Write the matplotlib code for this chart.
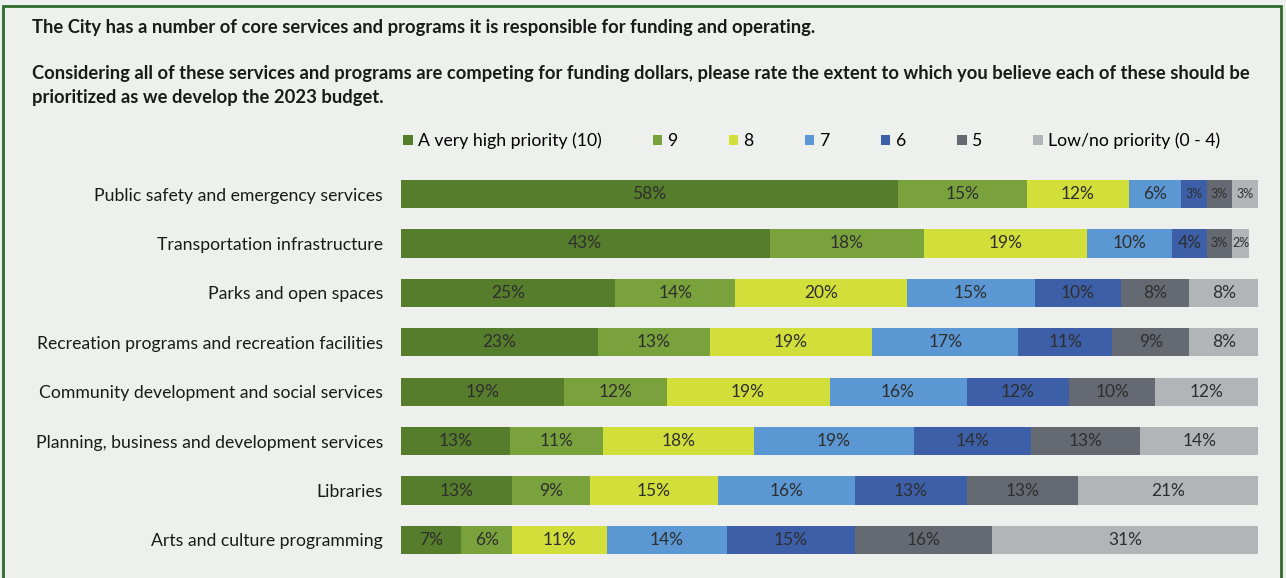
import numpy as np
import matplotlib.pyplot as plt
from matplotlib.patches import Rectangle

# Survey results: share of respondents per priority rating (%)
services = [
    "Public safety and emergency services",
    "Transportation infrastructure",
    "Parks and open spaces",
    "Recreation programs and recreation facilities",
    "Community development and social services",
    "Planning, business and development services",
    "Libraries",
    "Arts and culture programming",
]
ratings = ["A very high priority (10)", "9", "8", "7", "6", "5", "Low/no priority (0 - 4)"]

p10 = [58, 43, 25, 23, 19, 13, 13, 7]
p9 = [15, 18, 14, 13, 12, 11, 9, 6]
p8 = [12, 19, 20, 19, 19, 18, 15, 11]
p7 = [6, 10, 15, 17, 16, 19, 16, 14]
p6 = [3, 4, 10, 11, 12, 14, 13, 15]
p5 = [3, 3, 8, 9, 10, 13, 13, 16]
plow = [3, 2, 8, 8, 12, 14, 21, 31]

colors = ["#567d2b", "#7aa23c", "#d2df3b", "#5b97d2", "#3d5fa7", "#656a72", "#b2b5b8"]

values = np.array([p10, p9, p8, p7, p6, p5, plow], dtype=float)
# rows that round up past 100 are squeezed back to 100
scale = 100.0 / np.maximum(values.sum(axis=0), 100.0)
widths = values * scale

W, H = 1286, 578
fig = plt.figure(figsize=(W / 100, H / 100), dpi=100)
fig.patch.set_facecolor("#eef0ee")
plt.rcParams["font.family"] = ["Lato", "DejaVu Sans"]

# green frame
fig.patches.append(Rectangle((3 / W, -0.05), (1281 - 3) / W, 1 - 6 / H + 0.05,
                             transform=fig.transFigure, fill=False,
                             edgecolor="#2f6b2a", linewidth=2))

# question text
title_kw = dict(fontsize=13.2, fontweight="bold", color="#1a1a1a", va="center")
fig.text(32 / W, 1 - 27 / H,
         "The City has a number of core services and programs it is responsible for funding and operating.",
         **title_kw)
fig.text(32 / W, 1 - 74 / H,
         "Considering all of these services and programs are competing for funding dollars, please rate the extent to which you believe each of these should be",
         **title_kw)
fig.text(32 / W, 1 - 98 / H,
         "prioritized as we develop the 2023 budget.",
         **title_kw)

row_gap = 49.4
top = 194 - row_gap / 2
bottom = 540 + row_gap / 2
ax = fig.add_axes([401 / W, 1 - bottom / H, (1258 - 401) / W, (bottom - top) / H])
ax.set_facecolor("none")

y = np.arange(len(services))
left = np.zeros(len(services))
handles = []
for i in range(len(ratings)):
    bars = ax.barh(y, widths[i], left=left, height=0.57, color=colors[i],
                   label=ratings[i], edgecolor="none")
    handles.append(bars)
    for j in range(len(services)):
        v = values[i, j]
        fs = 12.5 if widths[i, j] >= 4 else 9
        if i >= 5 and j < 2:
            fs = 9
        ax.text(left[j] + widths[i, j] / 2, y[j], f"{v:.0f}%", ha="center", va="center",
                fontsize=fs, color="#2e2e2e")
    left += widths[i]

ax.set_xlim(0, 100)
ax.set_ylim(len(services) - 0.5, -0.5)
ax.set_yticks(y)
ax.set_yticklabels(services, fontsize=12.7, color="#1a1a1a")
ax.tick_params(axis="y", length=0, pad=13)
ax.set_xticks([])
for s in ax.spines.values():
    s.set_visible(False)

fig.legend(handles=handles, labels=ratings, loc="center left",
           bbox_to_anchor=(403 / W, 1 - 141 / H), ncol=7, frameon=False,
           fontsize=12.7, handlelength=0.55, handleheight=0.55, handletextpad=0.3,
           columnspacing=2.88, borderpad=0, borderaxespad=0)

plt.savefig("out.png", dpi=100, facecolor=fig.get_facecolor())
